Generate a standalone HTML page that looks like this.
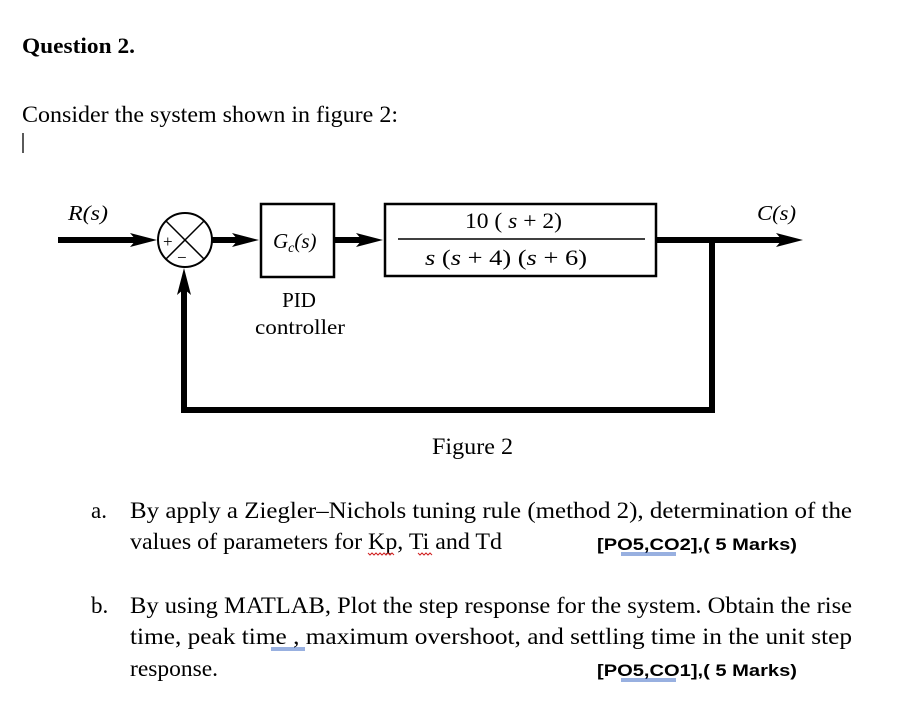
<!DOCTYPE html>
<html><head><meta charset="utf-8"><style>
body{margin:0;background:#fff;}
svg{display:block;}
.s{font-family:"Liberation Serif",serif;}
.b{font-family:"Liberation Sans",sans-serif;font-weight:bold;}
</style></head><body>
<svg width="912" height="726" viewBox="0 0 912 726" xmlns="http://www.w3.org/2000/svg">
<text x="22" y="53" class="s" font-size="22" font-weight="bold" textLength="113" lengthAdjust="spacingAndGlyphs">Question 2.</text>
<text x="22" y="122" class="s" font-size="23" textLength="376" lengthAdjust="spacingAndGlyphs">Consider the system shown in figure 2:</text>
<line x1="23" y1="133" x2="23" y2="153" stroke="#000" stroke-width="1.3"/>
<g stroke="#000" fill="none">
<line x1="58" y1="240" x2="140" y2="240" stroke-width="6"/>
<circle cx="185" cy="240" r="27" stroke-width="2"/>
<line x1="166" y1="221" x2="204" y2="259" stroke-width="1.5"/>
<line x1="204" y1="221" x2="166" y2="259" stroke-width="1.5"/>
<line x1="212" y1="240" x2="240" y2="240" stroke-width="6"/>
<rect x="261" y="204" width="73" height="73" stroke-width="2.5"/>
<line x1="334" y1="240" x2="362" y2="240" stroke-width="6"/>
<rect x="385" y="204" width="271" height="72" stroke-width="2.5"/>
<line x1="398" y1="239" x2="645" y2="239" stroke-width="1.5"/>
<line x1="656" y1="240" x2="785" y2="240" stroke-width="6"/>
<polyline points="712,240 712,410 184,410 184,288" stroke-width="6"/>
</g>
<g fill="#000">
<polygon points="157,240 130,233 136,240 130,247"/>
<polygon points="259,240 232,233 238,240 232,247"/>
<polygon points="383,240 356,233 362,240 356,247"/>
<polygon points="803,240 776,233 782,240 776,247"/>
<polygon points="184,268 177,295 184,289 191,295"/>
</g>
<text x="163" y="247" class="s" font-size="17">+</text>
<text x="177" y="263" class="s" font-size="17">−</text>
<text x="68" y="220" class="s" font-size="21" font-style="italic" textLength="40" lengthAdjust="spacingAndGlyphs">R(s)</text>
<text x="757" y="220" class="s" font-size="21" font-style="italic" textLength="39" lengthAdjust="spacingAndGlyphs">C(s)</text>
<text x="273" y="248" class="s" font-size="21" font-style="italic">G<tspan font-size="14" dy="4">c</tspan><tspan dy="-4">(s)</tspan></text>
<text x="465" y="228" class="s" font-size="22" textLength="97" lengthAdjust="spacingAndGlyphs">10 ( <tspan font-style="italic">s</tspan> + 2)</text>
<text x="425" y="265" class="s" font-size="22" textLength="162" lengthAdjust="spacingAndGlyphs"><tspan font-style="italic">s</tspan> (<tspan font-style="italic">s</tspan>  + 4) (<tspan font-style="italic">s</tspan> + 6)</text>
<text x="299" y="307" class="s" font-size="21" text-anchor="middle">PID</text>
<text x="255" y="334" class="s" font-size="21" textLength="90" lengthAdjust="spacingAndGlyphs">controller</text>
<text x="432" y="454" class="s" font-size="23" textLength="81" lengthAdjust="spacingAndGlyphs">Figure 2</text>
<g class="s" font-size="23">
<text x="91" y="518">a.</text>
<text x="130" y="518" textLength="722" lengthAdjust="spacingAndGlyphs">By apply a Ziegler–Nichols tuning rule (method 2), determination of the</text>
<text x="130" y="549" textLength="372" lengthAdjust="spacingAndGlyphs">values of parameters for Kp, Ti and Td</text>
<text x="91" y="613">b.</text>
<text x="130" y="613" textLength="722" lengthAdjust="spacingAndGlyphs">By using MATLAB, Plot the step response for the system. Obtain the rise</text>
<text x="130" y="644" textLength="722" lengthAdjust="spacingAndGlyphs">time, peak time , maximum overshoot, and settling time in the unit step</text>
<text x="130" y="676" textLength="88" lengthAdjust="spacingAndGlyphs">response.</text>
</g>
<text x="597" y="550" class="b" font-size="17" textLength="200" lengthAdjust="spacingAndGlyphs">[PO5,CO2],( 5 Marks)</text>
<text x="597" y="676" class="b" font-size="17" textLength="200" lengthAdjust="spacingAndGlyphs">[PO5,CO1],( 5 Marks)</text>
<g stroke="#3060c0" stroke-width="1">
<line x1="621" y1="553" x2="676" y2="553"/><line x1="621" y1="555" x2="676" y2="555"/>
<line x1="621" y1="679" x2="676" y2="679"/><line x1="621" y1="681" x2="676" y2="681"/>
<line x1="271" y1="648" x2="305" y2="648"/><line x1="271" y1="650" x2="305" y2="650"/>
</g>
<g stroke="#d02020" stroke-width="1" fill="none">
<polyline points="368,553 370,555 372,553 374,555 376,553 378,555 380,553 382,555 384,553 386,555 388,553 390,555 392,553 394,555"/>
<polyline points="418,553 420,555 422,553 424,555 426,553 428,555 430,553 432,555"/>
</g>
</svg>
</body></html>
